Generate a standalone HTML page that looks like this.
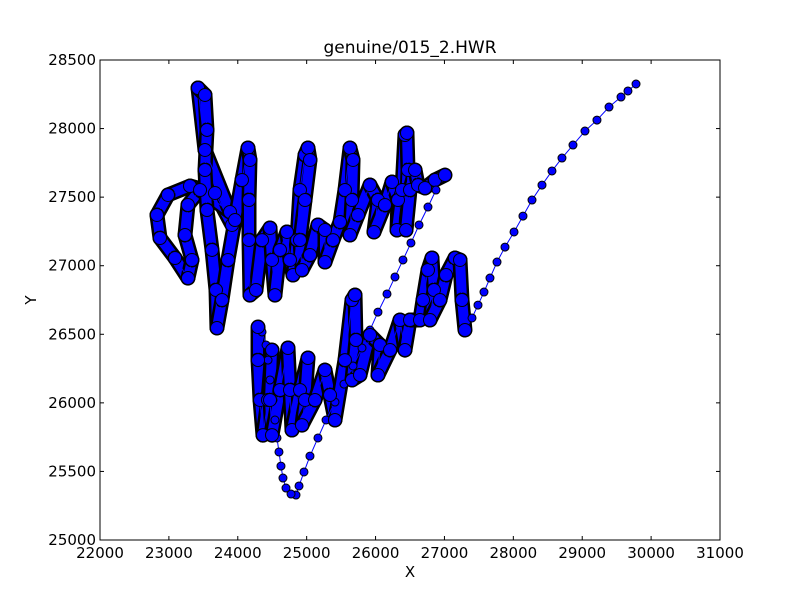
<!DOCTYPE html>
<html><head><meta charset="utf-8"><style>
body{margin:0;background:#fff;}
svg{display:block;font-family:"DejaVu Sans","Liberation Sans",sans-serif;}
</style></head><body>
<svg id="chart" width="800" height="600">
<rect width="800" height="600" fill="#fff"/>
<g id="marks"></g>
<g id="axes"></g>
</svg>
<script>
const xTicks=[22000,23000,24000,25000,26000,27000,28000,29000,30000,31000];
const yTicks=[25000,25500,26000,26500,27000,27500,28000,28500];
const xs=[23916,23669,23306,22987,22827,22871,23089,23277,23335,23234,23277,23452,23887,
23524,23423,23524,23553,23524,23553,23626,23684,23698,23771,23858,23960,24061,24148,24177,24163,24163,24177,24264,24352,24468,24497,24540,24613,24714,24758,24802,24860,24903,24976,25019,25048,24976,24903,24932,25048,25164,25266,25266,25382,25484,25556,25629,25673,25658,25629,25745,25919,26035,25977,26137,26239,26326,26311,26384,26427,26456,26471,26442,26500,26573,26616,26718,26863,27008,
26877,26761,26631,26514,26398,26282,26166,26035,25919,25803,25673,25542,25411,25281,25164,25048,24961,24889,24845,24773,24700,24656,24627,24598,24569,24540,24511,24468,24439,24410,24352,
24294,24294,24323,24366,24439,24497,24468,24497,24613,24729,24758,24787,24903,25019,24976,24932,25121,25266,25339,25411,25556,25658,25702,25716,25658,25774,25919,26064,26035,26210,26355,26427,26500,26645,26689,26761,26819,26848,26790,26935,27023,27153,27226,27255,27298,
27400,27487,27574,27661,27763,27879,28010,28140,28271,28416,28561,28706,28866,29040,29214,29389,29563,29664,29781];
const ys=[27297,27530,27581,27516,27370,27202,27056,26910,27042,27224,27443,27552,27392,
27844,28296,28245,27990,27698,27406,27115,26823,26546,26750,27042,27333,27625,27858,27771,27479,27187,26786,26823,27187,27275,27042,26786,27115,27246,27042,26932,27187,27552,27807,27858,27771,27479,27187,26969,27078,27297,27260,27027,27187,27319,27552,27858,27771,27479,27224,27370,27588,27479,27246,27443,27610,27479,27260,27552,27953,27968,27698,27260,27552,27698,27588,27567,27625,27661,
27552,27428,27297,27166,27042,26918,26794,26662,26531,26400,26269,26137,26006,25875,25744,25612,25496,25394,25328,25335,25379,25452,25539,25642,25744,25875,26021,26167,26312,26422,26517,
26553,26312,26021,25765,26021,26385,26021,25765,26094,26400,26094,25802,26094,26327,26021,25838,26021,26239,26057,25875,26312,26750,26786,26458,26167,26203,26495,26422,26203,26385,26604,26385,26604,26604,26750,26969,27056,26823,26604,26750,26932,27056,27042,26750,26531,
26619,26713,26808,26910,27027,27136,27246,27362,27479,27588,27691,27785,27880,27982,28062,28157,28230,28274,28325];
const pressure=[];
for(let i=0;i<78;i++)pressure.push(1);
for(let i=0;i<31;i++)pressure.push(0);
for(let i=0;i<45;i++)pressure.push(1);
for(let i=0;i<19;i++)pressure.push(0);

const L=100,R=720,T=60,B=540,x0=22000,x1=31000,y0=25000,y1=28500;
const sx=v=>L+(v-x0)/(x1-x0)*(R-L);
const sy=v=>B-(v-y0)/(y1-y0)*(B-T);
const NS="http://www.w3.org/2000/svg";
const marks=document.getElementById('marks');
const axes=document.getElementById('axes');
function mk(tag,attrs,parent){const e=document.createElementNS(NS,tag);for(const k in attrs)e.setAttribute(k,attrs[k]);parent.appendChild(e);return e;}
const rad=p=>p?6.5:4;
for(let i=1;i<xs.length;i++){
  const a=[sx(xs[i-1]),sy(ys[i-1])],b=[sx(xs[i]),sy(ys[i])];
  if(pressure[i]&&pressure[i-1]){
    const s1=mk('line',{x1:a[0],y1:a[1],x2:b[0],y2:b[1],stroke:'#000','stroke-width':15,'stroke-linecap':'round'},marks);
    
    
    const s2=mk('line',{x1:a[0],y1:a[1],x2:b[0],y2:b[1],stroke:'#0000ff','stroke-width':10,'stroke-linecap':'round'},marks);
    
    
  }
}
const pts=xs.map((v,i)=>sx(v)+','+sy(ys[i])).join(' ');
const pl=mk('polyline',{points:pts,fill:'none',stroke:'#0000ff','stroke-width':1},marks);


for(let i=0;i<xs.length;i++){
  const c=mk('circle',{cx:sx(xs[i]),cy:sy(ys[i]),r:rad(pressure[i]),fill:'#0000ff',stroke:'#000','stroke-width':1},marks);
  
  
}
const fr=mk('rect',{x:L,y:T,width:R-L,height:B-T,fill:'none',stroke:'#000','stroke-width':1},axes);


xTicks.forEach(v=>{
  const x=sx(v);
  mk('line',{x1:x,y1:B,x2:x,y2:B-4,stroke:'#000'},axes);
  mk('line',{x1:x,y1:T,x2:x,y2:T+4,stroke:'#000'},axes);
  const t=mk('text',{x:x,y:B+18,'text-anchor':'middle','font-size':15},axes);
  t.textContent=v;
  
  
});
yTicks.forEach(v=>{
  const y=sy(v);
  mk('line',{x1:L,y1:y,x2:L+4,y2:y,stroke:'#000'},axes);
  mk('line',{x1:R,y1:y,x2:R-4,y2:y,stroke:'#000'},axes);
  const t=mk('text',{x:L-4,y:y+5,'text-anchor':'end','font-size':15},axes);
  t.textContent=v;
  
  
});
const ti=mk('text',{x:410,y:53,'text-anchor':'middle','font-size':17},axes);
ti.textContent='genuine/015_2.HWR';


const xl=mk('text',{x:410,y:577,'text-anchor':'middle','font-size':15},axes);
xl.textContent='X';


const yl=mk('text',{x:36,y:300,'text-anchor':'middle','font-size':15,transform:'rotate(-90 36 300)'},axes);
yl.textContent='Y';


</script>
</body></html>
